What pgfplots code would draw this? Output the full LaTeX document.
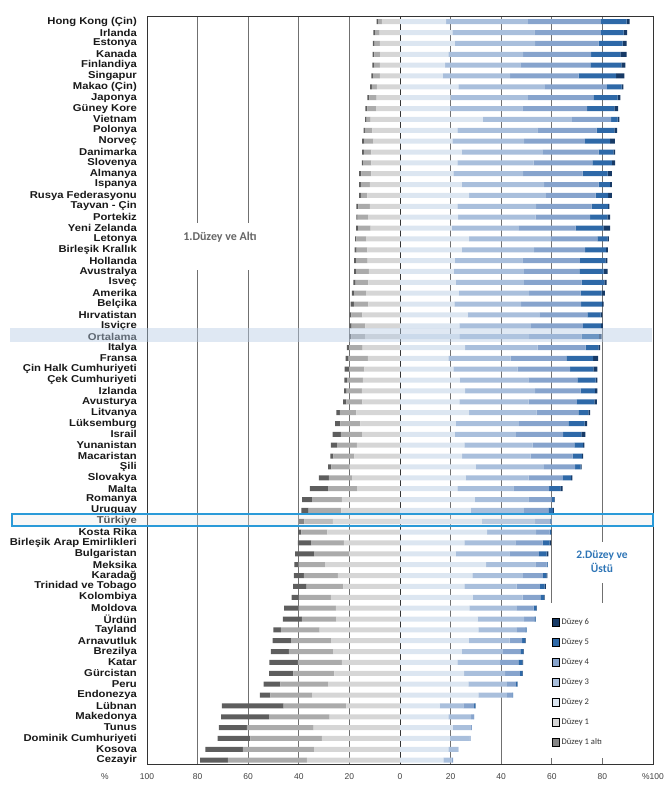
\documentclass[border=0pt]{standalone}
\usepackage{fontspec}
\setmainfont{Liberation Sans}
\newfontfamily\labfont[FakeStretch=1.13]{Liberation Sans}
\newfontfamily\carlito{Carlito}
\usepackage{pgfplots}
\usepackage{pgfplotstable}
\pgfplotsset{compat=1.18}

\definecolor{cBb}{HTML}{5E5E5E}
\definecolor{cB}{HTML}{ABABAB}
\definecolor{cA}{HTML}{D6D6D6}
\definecolor{cTwo}{HTML}{DCE6F1}
\definecolor{cThree}{HTML}{A9BFDC}
\definecolor{cFour}{HTML}{87A4CD}
\definecolor{cFive}{HTML}{2E69A8}
\definecolor{cSix}{HTML}{173A66}
\definecolor{cLeg}{HTML}{858585}
\definecolor{gridc}{HTML}{707070}
\definecolor{lblblue}{HTML}{2E75B6}
\definecolor{trbox}{HTML}{2A9AD8}
\definecolor{avgband}{HTML}{B8CCE4}

% y: row position (69 = top); left-side levels as negative percentages
\pgfplotstableread{
y b1b l1b l1a l2 l3 l4 l5 l6
69 -0.6 -1.4 -7.2 18.2 32.3 28.9 10.2 1.2
68 -0.7 -1.7 -8.1 20.7 32.4 26.3 9.0 1.4
67 -0.7 -2.0 -8.0 21.7 31.7 25.1 9.5 1.6
66 -0.7 -2.2 -7.9 19.1 29.6 26.8 11.6 2.5
65 -0.7 -2.2 -8.0 17.8 29.8 27.6 12.3 1.6
64 -0.7 -2.6 -8.0 16.9 26.6 27.1 14.8 3.3
63 -0.7 -2.0 -9.1 23.1 34.2 24.5 5.8 0.7
62 -0.8 -2.9 -9.2 20.0 30.5 25.9 9.6 1.1
61 -0.8 -3.5 -9.4 19.8 28.6 25.6 10.7 1.5
60 -0.6 -1.6 -11.6 32.8 35.1 15.5 2.6 0.7
59 -0.5 -3.0 -10.9 22.7 31.6 23.4 7.0 1.1
58 -0.8 -3.6 -10.6 20.7 28.4 24.0 10.0 1.8
57 -0.7 -3.0 -11.3 24.4 32.1 22.0 5.8 0.7
56 -0.5 -3.3 -11.3 22.7 30.1 23.2 7.7 1.3
55 -0.9 -4.0 -11.3 21.1 27.6 23.5 9.9 1.6
54 -0.7 -3.6 -11.9 24.4 32.6 21.5 4.5 0.7
53 -0.7 -2.6 -12.9 27.3 30.4 19.6 5.0 1.4
52 -0.7 -4.6 -11.9 22.7 31.1 21.9 6.6 0.5
51 -0.5 -4.1 -12.6 23.0 30.6 21.5 6.9 1.1
50 -0.7 -5.0 -11.6 20.4 26.6 22.4 11.0 2.7
49 -0.5 -3.8 -13.4 27.3 32.3 18.4 4.0 0.6
48 -0.8 -4.2 -12.9 24.4 28.6 20.2 8.3 0.7
47 -0.8 -4.5 -12.8 21.7 26.7 22.7 10.1 0.8
46 -0.8 -5.0 -12.3 21.3 27.7 21.9 9.6 1.6
45 -0.9 -5.0 -12.5 22.0 27.0 22.8 9.0 0.9
44 -0.9 -4.7 -13.4 23.3 27.7 20.4 8.3 1.3
43 -1.3 -5.7 -12.5 21.5 26.4 23.7 8.2 0.7
42 -0.7 -4.3 -14.9 26.7 28.6 18.8 5.2 0.7
41 -0.9 -5.4 -13.7 23.5 28.2 20.6 7.2 0.7
40 -0.9 -5.4 -13.8 23.5 27.5 20.8 6.8 1.1
39 -0.9 -5.3 -14.8 25.7 28.7 19.0 5.0 0.7
38 -1.2 -7.6 -12.7 19.1 24.6 22.1 10.5 2.0
37 -1.8 -6.0 -14.1 21.1 25.4 20.7 9.2 1.6
36 -1.1 -6.2 -14.7 23.7 27.0 19.4 7.2 0.7
35 -1.0 -6.0 -15.1 25.7 27.7 18.0 5.6 1.0
34 -1.3 -6.3 -14.9 23.5 27.3 19.1 6.9 1.0
33 -1.3 -6.6 -17.2 27.3 26.7 16.5 4.0 0.6
32 -2.0 -7.9 -15.7 22.1 24.9 19.5 6.5 1.0
31 -3.2 -8.4 -15.0 21.7 24.1 18.7 7.2 1.6
30 -2.4 -7.9 -17.0 25.4 27.0 16.5 3.5 0.5
29 -1.2 -8.3 -18.0 24.6 27.0 16.6 3.7 0.5
28 -1.3 -7.1 -20.0 30.0 26.9 12.3 2.2 0.4
27 -4.0 -9.2 -18.9 26.0 24.8 13.6 3.2 0.5
26 -7.2 -11.5 -16.9 22.7 22.1 14.1 4.5 0.9
25 -4.0 -11.7 -23.0 29.6 21.1 9.2 1.1 0.2
24 -2.9 -12.9 -23.2 27.9 21.1 9.6 1.9 0.3
23 -2.2 -11.3 -26.5 32.3 21.1 5.8 0.7 0.1
22 -1.3 -10.3 -28.7 34.4 19.4 5.3 0.6 0.1
21 -5.3 -12.9 -22.2 25.4 20.2 10.8 2.7 0.6
20 -7.6 -13.8 -20.1 22.1 21.1 11.7 3.1 0.6
19 -1.6 -10.5 -29.6 34.0 19.5 4.5 0.3 0.1
18 -3.9 -13.4 -24.6 28.6 20.0 7.9 1.4 0.3
17 -5.3 -14.5 -22.4 25.4 20.7 9.2 1.9 0.5
16 -2.8 -12.7 -27.3 28.7 19.8 7.0 1.4 0.3
15 -5.7 -14.8 -25.3 27.4 18.8 6.6 1.1 0.2
14 -7.5 -13.6 -25.2 30.7 18.4 4.0 0.5 0.1
13 -2.9 -15.3 -31.8 31.0 15.2 3.4 0.4 0.0
12 -7.3 -15.8 -27.2 27.2 16.1 5.0 1.2 0.2
11 -7.1 -17.5 -26.4 24.5 16.2 6.9 1.2 0.2
10 -11.2 -17.4 -23.0 22.7 16.9 7.2 1.6 0.3
9 -9.6 -16.2 -25.9 25.3 16.2 5.9 1.0 0.2
8 -6.6 -18.9 -28.4 27.0 15.2 3.6 0.6 0.1
7 -4.2 -16.5 -34.7 31.0 11.2 2.2 0.3 0.0
6 -24.4 -24.8 -21.2 15.8 9.2 4.3 0.5 0.1
5 -19.0 -23.9 -27.8 19.1 9.0 1.1 0.1 0.0
4 -11.1 -26.4 -34.1 20.8 7.0 0.6 0.0 0.0
3 -13.0 -28.2 -30.9 19.8 7.6 0.5 0.0 0.0
2 -14.8 -28.2 -33.9 19.1 3.9 0.1 0.0 0.0
1 -11.0 -31.2 -36.8 17.1 3.3 0.6 0.0 0.0
}\data

\pgfplotsset{
  base/.style={
    at={(0,0)}, anchor=south west, scale only axis,
    width=506bp, height=748bp,
    xmin=-100, xmax=100, ymin=0.65, ymax=69.525,
    xbar stacked, bar width=5bp,
  },
}

\begin{document}
\begin{tikzpicture}
\useasboundingbox (-147bp,-26bp) rectangle (523bp,764bp);
\begin{axis}[base,
  xtick={-100,-80,...,100},
  xticklabels={100,80,60,40,20,0,20,40,60,80,\%100},
  ytick={1,...,69},
  yticklabels={Cezayir,Kosova,Dominik Cumhuriyeti,Tunus,Makedonya,Lübnan,Endonezya,Peru,Gürcistan,Katar,Brezilya,Arnavutluk,Tayland,Ürdün,Moldova,Kolombiya,Trinidad ve Tobago,Karadağ,Meksika,Bulgaristan,Birleşik Arap Emirlikleri,Kosta Rika,Türkiye,Uruguay,Romanya,Malta,Slovakya,Şili,Macaristan,Yunanistan,Israil,Lüksemburg,Litvanya,Avusturya,Izlanda,Çek Cumhuriyeti,Çin Halk Cumhuriyeti,Fransa,Italya,Ortalama,Isviçre,Hırvatistan,Belçika,Amerika,Isveç,Avustralya,Hollanda,Birleşik Krallık,Letonya,Yeni Zelanda,Portekiz,Tayvan - Çin,Rusya Federasyonu,Ispanya,Almanya,Slovenya,Danimarka,Norveç,Polonya,Vietnam,Güney Kore,Japonya,Makao (Çin),Singapur,Finlandiya,Kanada,Estonya,Irlanda,Hong Kong (Çin)},
  major tick length=0pt,
  xmajorgrids,
  major grid style={gridc, line width=0.8bp},
  axis line style={black!80, line width=0.8bp},
  yticklabel style={font=\labfont\bfseries\fontsize{10}{10}\selectfont, anchor=east, inner sep=0pt, xshift=-10bp, text=black!90},
  xticklabel style={font=\fontsize{8.5}{9}\selectfont, text=black!75, inner sep=0pt, anchor=center, yshift=-13bp},
]
\addplot[fill=cA, draw=none] table[x=l1a, y=y] {\data};
\addplot[fill=cB, draw=none] table[x=l1b, y=y] {\data};
\addplot[fill=cBb, draw=none] table[x=b1b, y=y] {\data};
\end{axis}

% gaps in the grid behind the text boxes and the legend
\fill[white] (33bp,494bp) rectangle (115bp,541bp);
\fill[white] (426bp,181bp) rectangle (486bp,222bp);
\fill[white] (399bp,6bp) rectangle (501bp,161bp);

\begin{axis}[base, hide axis,
  legend image code/.code={\fill[#1] (0bp,-3.8bp) rectangle (7.5bp,3.8bp);},
  legend style={at={(rel axis cs:0.800,0.197)}, anchor=north west, draw=none, fill=none,
    font=\carlito\fontsize{8.6}{9}\selectfont, text=black!80, row sep=8.8bp,
    inner sep=0pt, outer sep=0pt, legend cell align=left},
]
\addplot[fill=cTwo, draw=none, forget plot] table[x=l2, y=y] {\data};
\addplot[fill=cThree, draw=none, forget plot] table[x=l3, y=y] {\data};
\addplot[fill=cFour, draw=none, forget plot] table[x=l4, y=y] {\data};
\addplot[fill=cFive, draw=none, forget plot] table[x=l5, y=y] {\data};
\addplot[fill=cSix, draw=none, forget plot] table[x=l6, y=y] {\data};
\draw[black!80, line width=1bp] (axis cs:0,0.65) -- (axis cs:0,69.525);
\addlegendimage{fill=cSix}\addlegendentry{Düzey 6}
\addlegendimage{fill=cFive}\addlegendentry{Düzey 5}
\addlegendimage{fill=cFour}\addlegendentry{Düzey 4}
\addlegendimage{fill=cThree}\addlegendentry{Düzey 3}
\addlegendimage{fill=cTwo}\addlegendentry{Düzey 2}
\addlegendimage{fill=cA}\addlegendentry{Düzey 1}
\addlegendimage{fill=cLeg}\addlegendentry{Düzey 1 altı}
\end{axis}

\node[font=\carlito\bfseries\fontsize{12}{14}\selectfont, text=black!60] at (73bp,527bp) {1.Düzey ve Altı};
\node[font=\carlito\bfseries\fontsize{11.5}{14}\selectfont, text=lblblue, align=center] at (455bp,202bp) {2.Düzey ve\\Üstü};
\node[font=\fontsize{8.5}{9}\selectfont, text=black!75] at (-42bp,-13bp) {\%};

% highlighted rows
\fill[avgband, opacity=0.45] (-137bp,422bp) rectangle (505bp,435.5bp);
\draw[trbox, line width=1.5bp, fill=black!10, fill opacity=0.3] (-135bp,238bp) rectangle (506bp,250bp);
\end{tikzpicture}
\end{document}
